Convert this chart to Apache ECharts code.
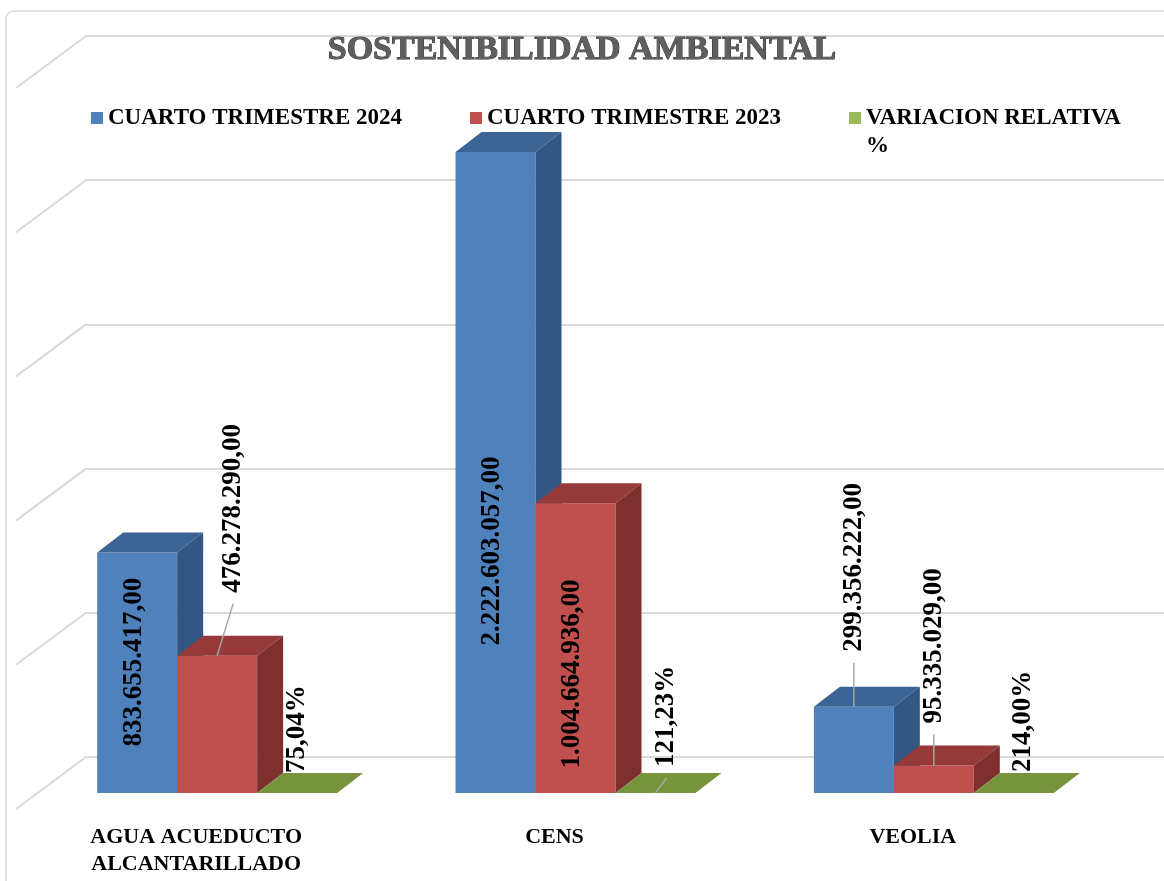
<!DOCTYPE html>
<html>
<head>
<meta charset="utf-8">
<title>Sostenibilidad Ambiental</title>
<script src="https://cdn.jsdelivr.net/npm/echarts@6/dist/echarts.min.js"></script>
<style>
    html, body { margin: 0; padding: 0; background: #fff; }
    #chart { width: 1164px; height: 881px; }
</style>
</head>
<body>
<div id="chart"></div>
<script>
// datos del grafico
var categories = ['AGUA ACUEDUCTO ALCANTARILLADO', 'CENS', 'VEOLIA'];
var trimestre2024 = [833655417.00, 2222603057.00, 299356222.00];
var trimestre2023 = [476278290.00, 1004664936.00, 95335029.00];
var variacionPct = [75.04, 121.23, 214.00];
var seriesNames = ['CUARTO TRIMESTRE 2024', 'CUARTO TRIMESTRE 2023', 'VARIACION RELATIVA %'];
var wallTicks = [0, 500000000, 1000000000, 1500000000, 2000000000, 2500000000];

// colores de las caras (frente, tapa, lado)
var faceColors = [
    { front: '#4f81bd', top: '#3c6595', side: '#335784' },
    { front: '#c0504d', top: '#953a38', side: '#7d302e' },
    { front: '#9bbb59', top: '#77933c', side: '#5f7630' }
];

// donde va cada etiqueta: dentro de la barra (rise = px sobre la base) o fuera con linea guia
var labelSpots = [
    [{ mode: 'in', rise: 131 }, { mode: 'in', rise: 242 }, { mode: 'out', dx: 0, gap: 55, lead: true }],
    [{ mode: 'out', dx: 16, gap: 63, lead: true }, { mode: 'in', rise: 119 }, { mode: 'out', dx: 0, gap: 42, lead: true }],
    [{ mode: 'out', dx: 0, gap: 20 }, { mode: 'out', dx: 11, gap: 26, lead: true }, { mode: 'out', dx: 9, gap: 21 }]
];

var labelFont = 'bold 27px "Liberation Serif"';
var DX = 26, DY = -20;

function fmtNum(v) {
    var p = v.toFixed(2).split('.');
    return p[0].replace(/\B(?=(\d{3})+(?!\d))/g, '.') + ',' + p[1];
}

function fmtPct(v) {
    return v.toFixed(2).replace('.', ',') + '%';
}

function make3dBar(slot, texts) {
    return function (params, api) {
        var cat = api.value(0);
        var base = api.coord([cat, 0]);
        var top = api.coord([cat, api.value(1)]);
        var catW = api.size([1, 0])[0];
        var bw = catW * 0.2232;
        var x0 = base[0] + catW * 0.0586 + (slot - 1.5) * bw;
        var ty = top[1], by = base[1];
        var c = faceColors[slot];
        var cx = x0 + bw / 2;

        var children = [
            { type: 'rect', shape: { x: x0, y: ty, width: bw, height: by - ty }, style: { fill: c.front } },
            { type: 'polygon', shape: { points: [[x0, ty], [x0 + DX, ty + DY], [x0 + bw + DX, ty + DY], [x0 + bw, ty]] }, style: { fill: c.top } },
            { type: 'polygon', shape: { points: [[x0 + bw, ty], [x0 + bw + DX, ty + DY], [x0 + bw + DX, by + DY], [x0 + bw, by]] }, style: { fill: c.side } }
        ];

        var spot = labelSpots[slot][params.dataIndex];
        var txt = texts[params.dataIndex];
        if (spot.mode === 'in') {
            children.push({
                type: 'text', x: cx - 3, y: by - spot.rise, rotation: Math.PI / 2,
                style: { text: txt, font: labelFont, fill: '#000', align: 'center', verticalAlign: 'middle' }
            });
        } else {
            var tx = cx + spot.dx;
            var tb = ty - spot.gap;
            if (spot.lead) {
                children.push({
                    type: 'line', shape: { x1: cx, y1: ty, x2: tx, y2: tb + 11 },
                    style: { stroke: '#a6a6a6', lineWidth: 1.5 }
                });
            }
            children.push({
                type: 'text', x: tx, y: tb, rotation: Math.PI / 2,
                style: { text: txt, font: labelFont, fill: '#000', align: 'left', verticalAlign: 'middle' }
            });
        }
        return { type: 'group', children: children };
    };
}

var chart = echarts.init(document.getElementById('chart'));

var legendText = {
    color: '#000',
    fontFamily: 'Liberation Serif',
    fontWeight: 'bold',
    fontSize: 23,
    lineHeight: 28
};

var option = {
    animation: false,
    backgroundColor: '#fff',
    title: {
        text: 'SOSTENIBILIDAD AMBIENTAL',
        left: 'center',
        top: 28,
        textStyle: {
            fontFamily: 'Liberation Serif',
            fontWeight: 'bold',
            fontSize: 34,
            color: '#5f5f5f',
            textBorderColor: '#333',
            textBorderWidth: 1,
            textShadowColor: 'rgba(0,0,0,0.45)',
            textShadowOffsetX: 2,
            textShadowOffsetY: 2
        }
    },
    legend: [
        { data: [seriesNames[0]], left: 91, top: 104, padding: 0, icon: 'rect', itemWidth: 12, itemHeight: 12, textStyle: legendText },
        { data: [seriesNames[1]], left: 470, top: 104, padding: 0, icon: 'rect', itemWidth: 12, itemHeight: 12, textStyle: legendText },
        {
            // linea vacia arriba para que el icono quede junto a la primera linea
            data: [seriesNames[2]], left: 849, top: 76, padding: 0, icon: 'rect', itemWidth: 12, itemHeight: 12,
            formatter: function (n) { return '\u00a0\n' + n.replace(' %', '\n%'); },
            textStyle: legendText
        }
    ],
    graphic: [{
        type: 'rect', silent: true, z: -10,
        shape: { x: 6, y: 11, width: 1300, height: 1000, r: 8 },
        style: { fill: 'none', stroke: '#d9d9d9', lineWidth: 1.5 }
    }],
    grid: [
        { left: 17, right: 72, top: 72, bottom: 88, outerBoundsMode: 'none' },
        { left: 86, right: 0, top: 36, bottom: 124, outerBoundsMode: 'none' }
    ],
    xAxis: [{
        type: 'category',
        gridIndex: 0,
        data: categories,
        axisLine: { show: false },
        axisTick: { show: false },
        axisLabel: {
            interval: 0,
            margin: 31,
            color: '#000',
            fontFamily: 'Liberation Serif',
            fontWeight: 'bold',
            fontSize: 22,
            lineHeight: 27,
            formatter: function (v) { return v.replace('ACUEDUCTO ', 'ACUEDUCTO\n'); }
        }
    }, {
        type: 'value',
        gridIndex: 1,
        min: 0,
        max: 1,
        show: false
    }],
    yAxis: [{
        type: 'value',
        gridIndex: 0,
        min: 0,
        max: 2500000000,
        show: false
    }, {
        type: 'value',
        gridIndex: 1,
        min: 0,
        max: 2500000000,
        interval: 500000000,
        axisLine: { show: false },
        axisTick: { show: false },
        axisLabel: { show: false },
        splitLine: { lineStyle: { color: '#d9d9d9', width: 2 } }
    }],
    series: [
        {
            // lineas de la pared lateral
            type: 'custom',
            xAxisIndex: 1,
            yAxisIndex: 1,
            silent: true,
            data: wallTicks.map(function (v) { return [0, v]; }),
            encode: { x: 0, y: 1 },
            renderItem: function (params, api) {
                var p = api.coord([0, api.value(1)]);
                return {
                    type: 'line',
                    shape: { x1: p[0] - 70, y1: p[1] + 52, x2: p[0], y2: p[1] },
                    style: { stroke: '#d9d9d9', lineWidth: 2 }
                };
            }
        },
        {
            name: seriesNames[0],
            type: 'custom',
            itemStyle: { color: faceColors[0].front },
            data: trimestre2024.map(function (v, i) { return [i, v]; }),
            encode: { x: 0, y: 1 },
            renderItem: make3dBar(0, trimestre2024.map(fmtNum))
        },
        {
            name: seriesNames[1],
            type: 'custom',
            itemStyle: { color: faceColors[1].front },
            data: trimestre2023.map(function (v, i) { return [i, v]; }),
            encode: { x: 0, y: 1 },
            renderItem: make3dBar(1, trimestre2023.map(fmtNum))
        },
        {
            name: seriesNames[2],
            type: 'custom',
            itemStyle: { color: faceColors[2].front },
            data: variacionPct.map(function (v, i) { return [i, v / 100]; }),
            encode: { x: 0, y: 1 },
            renderItem: make3dBar(2, variacionPct.map(fmtPct))
        }
    ]
};

chart.setOption(option);
</script>
</body>
</html>
